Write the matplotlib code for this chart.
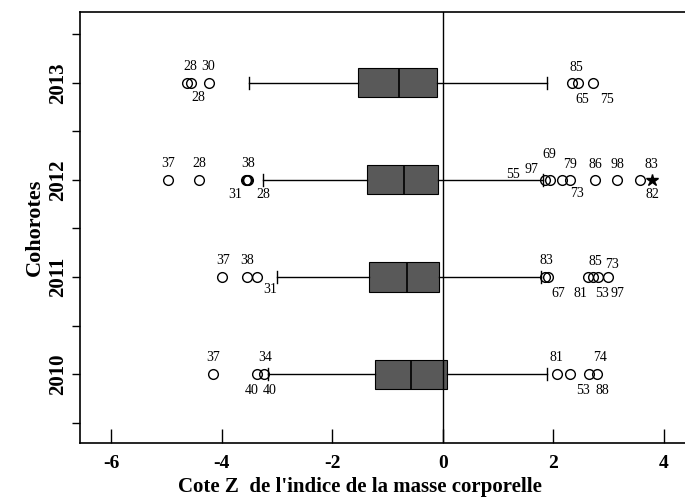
import matplotlib.pyplot as plt

plt.rcParams['font.family'] = ['Liberation Serif', 'DejaVu Serif']

# box statistics (Z-score of BMI per cohort)
years = [2010, 2011, 2012, 2013]
q1 = [-1.23, -1.34, -1.37, -1.54]
med = [-0.58, -0.65, -0.71, -0.80]
q3 = [0.07, -0.07, -0.09, -0.11]
whislo = [-3.16, -3.00, -3.25, -3.51]
whishi = [1.88, 1.77, 1.81, 1.88]

# outliers (open circles)
fliers = [
    [-4.16, -3.36, -3.24, 2.06, 2.30, 2.65, 2.78],
    [-4.00, -3.54, -3.36, 1.84, 1.90, 2.62, 2.71, 2.80, 2.98],
    [-4.97, -4.41, -3.56, -3.54, -3.52, 1.84, 1.93, 2.15, 2.30, 2.75, 3.15, 3.56],
    [-4.63, -4.56, -4.23, 2.33, 2.44, 2.71],
]
# extreme value (star)
extreme_year = [2012]
extreme_val = [3.78]

# case numbers next to the outliers: text, x position, vertical shift
case_text = [
    ["37", "34", "40", "40", "81", "74", "53", "88"],
    ["37", "38", "31", "83", "85", "73", "67", "81", "53", "97"],
    ["37", "28", "38", "31", "28", "55", "97", "69", "79", "86", "98", "83", "73", "82"],
    ["28", "30", "28", "85", "65", "75"],
]
case_x = [
    [-4.16, -3.22, -3.45, -3.13, 2.06, 2.84, 2.53, 2.89],
    [-3.98, -3.54, -3.13, 1.88, 2.75, 3.06, 2.08, 2.48, 2.88, 3.16],
    [-4.97, -4.41, -3.53, -3.76, -3.25, 1.27, 1.61, 1.93, 2.30, 2.75, 3.15, 3.78, 2.42, 3.80],
    [-4.57, -4.25, -4.43, 2.42, 2.53, 2.97],
]
case_dy = [
    [0.17, 0.17, -0.17, -0.17, 0.17, 0.17, -0.17, -0.17],
    [0.17, 0.17, -0.13, 0.17, 0.16, 0.13, -0.17, -0.17, -0.17, -0.17],
    [0.17, 0.17, 0.17, -0.15, -0.15, 0.06, 0.11, 0.26, 0.16, 0.16, 0.16, 0.16, -0.14, -0.15],
    [0.17, 0.17, -0.15, 0.16, -0.17, -0.17],
]

stats = []
for i in range(len(years)):
    stats.append(dict(q1=q1[i], med=med[i], q3=q3[i], whislo=whislo[i],
                      whishi=whishi[i], fliers=fliers[i]))

fig = plt.figure(figsize=(6.85, 5.0), dpi=100)
ax = fig.add_axes([0.117, 0.114, 0.883, 0.862])

ax.bxp(stats, positions=years, vert=False, widths=0.3, capwidths=0.12,
       patch_artist=True,
       boxprops=dict(facecolor='#595959', edgecolor='black', linewidth=0.8),
       medianprops=dict(color='black', linewidth=1.2),
       whiskerprops=dict(color='black', linewidth=1.0),
       capprops=dict(color='black', linewidth=1.0),
       flierprops=dict(marker='o', markerfacecolor='none', markeredgecolor='black',
                       markersize=7, markeredgewidth=1.0))

ax.plot(extreme_val, extreme_year, linestyle='none', marker='*', color='black',
        markersize=9)

for i, yr in enumerate(years):
    for t, x, dy in zip(case_text[i], case_x[i], case_dy[i]):
        ax.text(x, yr + dy, t, ha='center', va='center', fontsize=10)

ax.axvline(0, color='black', linewidth=1.0)

ax.set_xlim(-6.56, 4.38)
ax.set_ylim(2009.29, 2013.73)
ax.set_xticks([-6, -4, -2, 0, 2, 4])
ax.set_xticklabels(['-6', '-4', '-2', '0', '2', '4'], fontsize=14, fontweight='bold')
ax.set_yticks(years)
ax.set_yticklabels([str(y) for y in years], fontsize=15, fontweight='bold',
                   rotation=90, va='center')
ax.set_yticks([2009.5, 2010.5, 2011.5, 2012.5, 2013.5], minor=True)
ax.tick_params(axis='x', direction='in', length=10, width=1.0, pad=9)
ax.tick_params(axis='y', which='both', direction='out', length=6, width=1.0, pad=3)

ax.spines['right'].set_visible(False)
for s in ['left', 'top', 'bottom']:
    ax.spines[s].set_linewidth(1.2)

ax.set_xlabel("Cote Z  de l'indice de la masse corporelle", fontsize=15,
              fontweight='bold', labelpad=3, x=0.463)
ax.set_ylabel("Cohorotes", fontsize=16, fontweight='bold', labelpad=2)

fig.savefig('out.png', dpi=100)
